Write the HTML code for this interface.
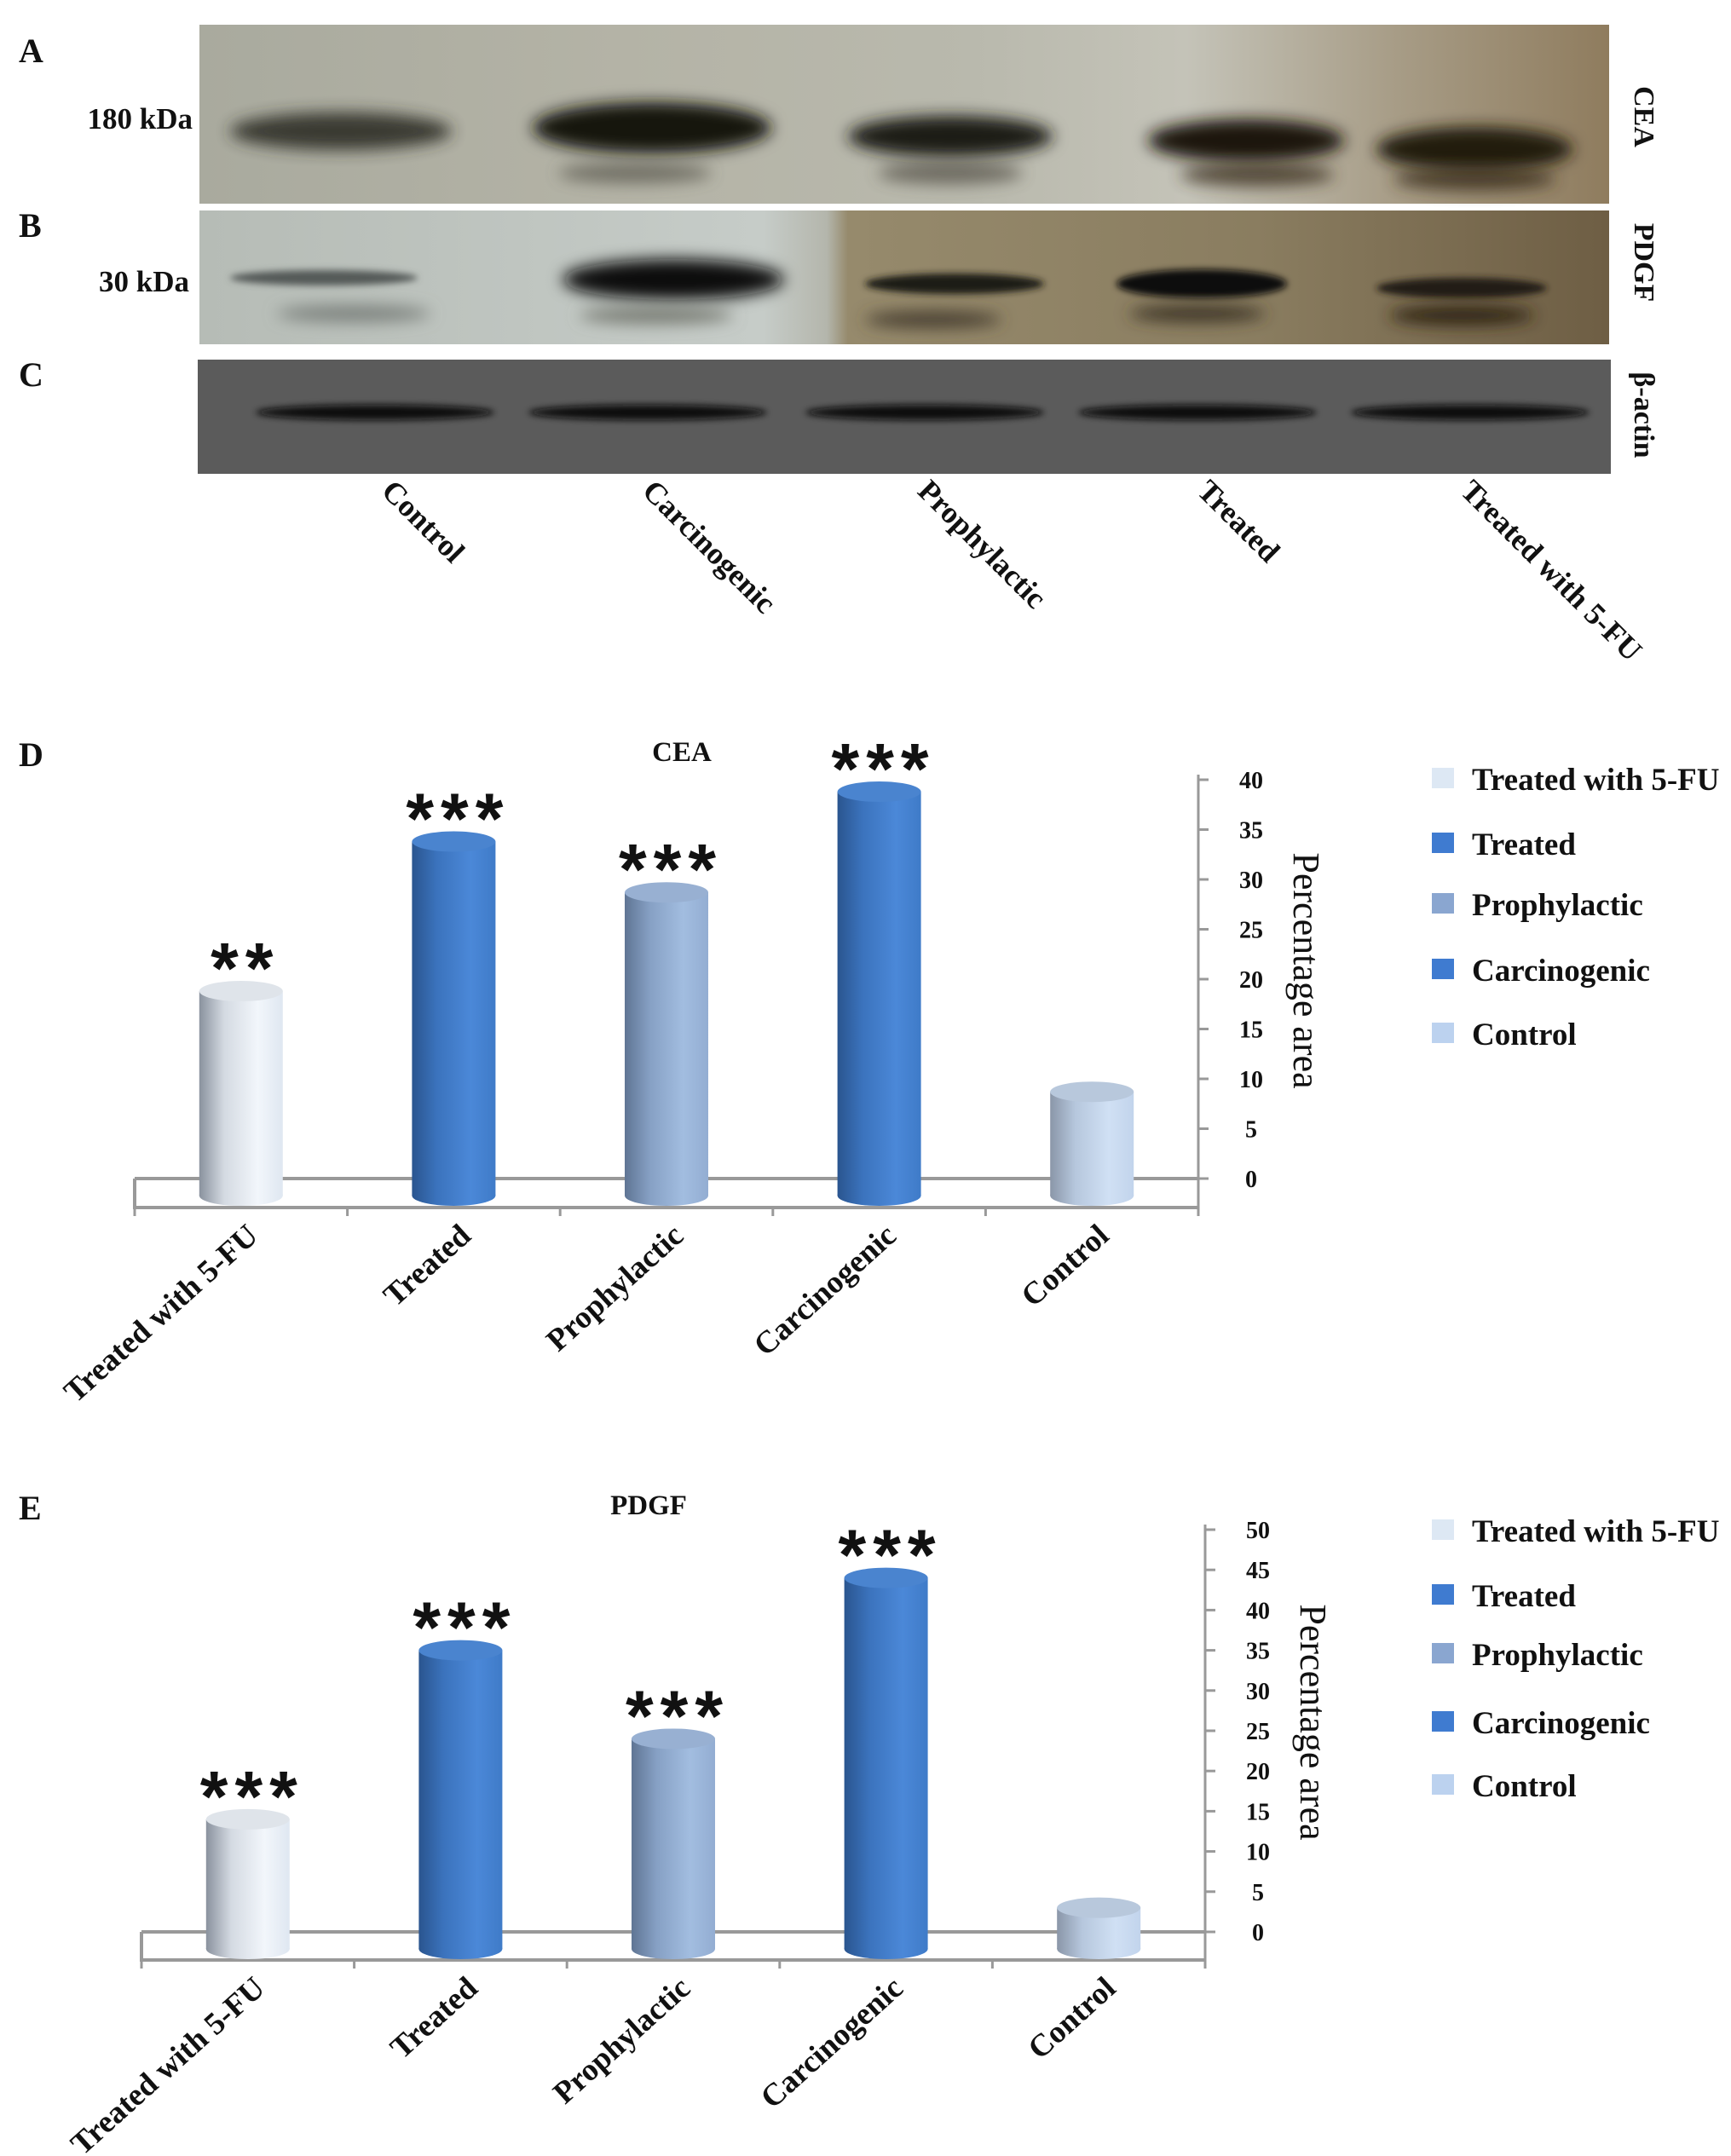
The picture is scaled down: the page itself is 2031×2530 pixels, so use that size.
<!DOCTYPE html>
<html><head><meta charset="utf-8"><style>
html,body{margin:0;padding:0;background:#fff}
svg{display:block}
text{font-family:"Liberation Serif",serif;font-weight:bold;fill:#111}
</style></head><body>
<svg id="fig" width="2031" height="2530" viewBox="0 0 2031 2530" xmlns="http://www.w3.org/2000/svg">
<defs>
<filter id="blur8" x="-30%" y="-100%" width="160%" height="300%"><feGaussianBlur stdDeviation="9"/></filter>
<filter id="blur4" x="-30%" y="-100%" width="160%" height="300%"><feGaussianBlur stdDeviation="4"/></filter>
<linearGradient id="bgA" x1="0" x2="1" y1="0" y2="0">
<stop offset="0" stop-color="#a9aa9e"/><stop offset="0.3" stop-color="#b4b3a6"/><stop offset="0.55" stop-color="#b9b9ad"/><stop offset="0.7" stop-color="#c4c3b8"/><stop offset="0.85" stop-color="#a79c86"/><stop offset="1" stop-color="#8f7c5e"/></linearGradient>
<linearGradient id="bgB" x1="0" x2="1" y1="0" y2="0">
<stop offset="0" stop-color="#b6bcb6"/><stop offset="0.4" stop-color="#c6ccc8"/><stop offset="0.445" stop-color="#b4b6ac"/><stop offset="0.46" stop-color="#968a6c"/><stop offset="0.75" stop-color="#8a7d60"/><stop offset="1" stop-color="#6e5e44"/></linearGradient>
<linearGradient id="g5fu" x1="0" x2="1"><stop offset="0" stop-color="#8a929e"/><stop offset="0.3" stop-color="#d4dae2"/><stop offset="0.7" stop-color="#f2f6fb"/><stop offset="1" stop-color="#dfe7f1"/></linearGradient>
<linearGradient id="gtr" x1="0" x2="1"><stop offset="0" stop-color="#2a558f"/><stop offset="0.3" stop-color="#3b73bd"/><stop offset="0.7" stop-color="#4b88d8"/><stop offset="1" stop-color="#3f7bc8"/></linearGradient>
<linearGradient id="gpr" x1="0" x2="1"><stop offset="0" stop-color="#5f7594"/><stop offset="0.3" stop-color="#86a0c4"/><stop offset="0.7" stop-color="#a2bde0"/><stop offset="1" stop-color="#93add2"/></linearGradient>
<linearGradient id="gct" x1="0" x2="1"><stop offset="0" stop-color="#8a96a8"/><stop offset="0.3" stop-color="#b6c7dd"/><stop offset="0.7" stop-color="#d0e0f4"/><stop offset="1" stop-color="#c2d4ec"/></linearGradient>
</defs>

<g>
<rect x="234" y="29" width="1654" height="210" fill="url(#bgA)"/>
<ellipse cx="400" cy="154" rx="130" ry="22" fill="#2e2e26" filter="url(#blur8)" opacity="0.9"/>
<ellipse cx="765" cy="150" rx="140" ry="30" fill="#151510" filter="url(#blur8)"/>
<ellipse cx="745" cy="203" rx="90" ry="12" fill="#55524a" filter="url(#blur8)" opacity="0.7"/>
<ellipse cx="1115" cy="160" rx="120" ry="24" fill="#1e1c16" filter="url(#blur8)"/>
<ellipse cx="1115" cy="203" rx="85" ry="13" fill="#4d4a40" filter="url(#blur8)" opacity="0.7"/>
<ellipse cx="1462" cy="165" rx="115" ry="25" fill="#1d1810" filter="url(#blur8)"/>
<ellipse cx="1475" cy="205" rx="90" ry="14" fill="#3c3020" filter="url(#blur8)" opacity="0.8"/>
<ellipse cx="1730" cy="175" rx="115" ry="26" fill="#201a10" filter="url(#blur8)"/>
<ellipse cx="1730" cy="210" rx="95" ry="14" fill="#3a2e1c" filter="url(#blur8)" opacity="0.8"/>
</g>
<g>
<rect x="234" y="247" width="1654" height="157" fill="url(#bgB)"/>
<ellipse cx="380" cy="326" rx="110" ry="9" fill="#555a58" filter="url(#blur4)"/>
<ellipse cx="415" cy="368" rx="90" ry="10" fill="#7d827e" filter="url(#blur8)"/>
<ellipse cx="790" cy="328" rx="130" ry="24" fill="#0c0e0c" filter="url(#blur8)"/>
<ellipse cx="770" cy="370" rx="90" ry="10" fill="#777a72" filter="url(#blur8)"/>
<ellipse cx="1120" cy="333" rx="105" ry="12" fill="#1e1a12" filter="url(#blur4)"/>
<ellipse cx="1095" cy="375" rx="80" ry="10" fill="#4a4030" filter="url(#blur8)"/>
<ellipse cx="1410" cy="333" rx="100" ry="17" fill="#0e0c08" filter="url(#blur4)"/>
<ellipse cx="1405" cy="368" rx="80" ry="10" fill="#3e3626" filter="url(#blur8)"/>
<ellipse cx="1715" cy="338" rx="100" ry="12" fill="#241e14" filter="url(#blur4)"/>
<ellipse cx="1715" cy="370" rx="85" ry="12" fill="#302818" filter="url(#blur8)"/>
</g>
<g>
<rect x="232" y="422" width="1658" height="134" fill="#5b5b5b"/>
<ellipse cx="440" cy="484" rx="140" ry="9" fill="#0a0a0a" filter="url(#blur4)"/>
<ellipse cx="760" cy="484" rx="140" ry="9" fill="#0a0a0a" filter="url(#blur4)"/>
<ellipse cx="1085" cy="484" rx="140" ry="9" fill="#0a0a0a" filter="url(#blur4)"/>
<ellipse cx="1405" cy="484" rx="140" ry="9" fill="#0a0a0a" filter="url(#blur4)"/>
<ellipse cx="1725" cy="484" rx="140" ry="9" fill="#0a0a0a" filter="url(#blur4)"/>
</g>
<text x="22" y="73" font-size="40">A</text>
<text x="22" y="278" font-size="40">B</text>
<text x="22" y="453" font-size="40">C</text>
<text x="226" y="151" font-size="35" text-anchor="end">180 kDa</text>
<text x="222" y="342" font-size="35" text-anchor="end">30 kDa</text>
<text transform="translate(1918,137) rotate(90)" font-size="34" text-anchor="middle">CEA</text>
<text transform="translate(1918,308) rotate(90)" font-size="34" text-anchor="middle">PDGF</text>
<text transform="translate(1918,487) rotate(90)" font-size="34" text-anchor="middle">β-actin</text>
<text transform="translate(446,578) rotate(45)" font-size="36">Control</text>
<text transform="translate(752,578) rotate(45)" font-size="36">Carcinogenic</text>
<text transform="translate(1075,578) rotate(45)" font-size="36">Prophylactic</text>
<text transform="translate(1403,578) rotate(45)" font-size="36">Treated</text>
<text transform="translate(1712,578) rotate(45)" font-size="36">Treated with 5-FU</text>

<g id="chartD"></g>
<g id="chartE"></g>
</svg>
<script>
const categories = ["Treated with 5-FU","Treated","Prophylactic","Carcinogenic","Control"];
const ceaValues = [18.8, 33.8, 28.7, 38.8, 8.7];
const ceaStars = ["**","***","***","***",""];
const ceaTicks = [0,5,10,15,20,25,30,35,40];
const pdgfValues = [14, 35, 24, 44, 3];
const pdgfStars = ["***","***","***","***",""];
const pdgfTicks = [0,5,10,15,20,25,30,35,40,45,50];
const legendLabels = ["Treated with 5-FU","Treated","Prophylactic","Carcinogenic","Control"];
const legendColors = ["#dde8f4","#3f7bd0","#8aa6d0","#3f7bd0","#bcd2ef"];
const barFills = ["url(#g5fu)","url(#gtr)","url(#gpr)","url(#gtr)","url(#gct)"];
const topFills = ["#dfe4ea","#4a84cf","#98b0d2","#4a84cf","#b8c8dc"];

const NS = "http://www.w3.org/2000/svg";
function mk(parent, tag, attrs, txt){
  const e = document.createElementNS(NS, tag);
  for (const k in attrs) e.setAttribute(k, attrs[k]);
  if (txt !== undefined) e.textContent = txt;
  parent.appendChild(e);
  return e;
}

function drawChart(gid, cfg){
  const g = document.getElementById(gid);
  const maxV = cfg.ticks[cfg.ticks.length-1];
  const y = v => cfg.y0 - (v / maxV) * (cfg.y0 - cfg.yTop);
  const step = (cfg.axisX - cfg.floorL) / cfg.cats.length;
  const x = i => cfg.floorL + step * (i + 0.5);

  const pl = mk(g, 'text', {x: 22, y: cfg.titleY + 6, 'font-size': 40});
  
  
  pl.textContent = cfg.panel;
  const t = mk(g, 'text', {x: cfg.titleX, y: cfg.titleY, 'font-size': 33, 'text-anchor': 'middle'}, cfg.title);
  
  

  const fl = mk(g, 'path', {d: `M${cfg.floorL},${cfg.y0} L${cfg.axisX},${cfg.y0} M${cfg.floorL},${cfg.y0} L${cfg.floorL},${cfg.floorB} L${cfg.axisX},${cfg.floorB}`, stroke: '#999', 'stroke-width': 4, fill: 'none'});
  
  
  for (let i = 0; i <= cfg.cats.length; i++){
    const tx = cfg.floorL + step * i;
    const tk = mk(g, 'line', {x1: tx, x2: tx, y1: cfg.floorB, y2: cfg.floorB + 10, stroke: '#999', 'stroke-width': 3});
    
    
  }
  const ax = mk(g, 'line', {x1: cfg.axisX, x2: cfg.axisX, y1: cfg.yTop - 6, y2: cfg.floorB + 10, stroke: '#999', 'stroke-width': 3});
  
  
  cfg.ticks.forEach(v => {
    const tl = mk(g, 'line', {x1: cfg.axisX, x2: cfg.axisX + 12, y1: y(v), y2: y(v), stroke: '#999', 'stroke-width': 3});
    
    
    const tt = mk(g, 'text', {x: cfg.axisX + 62, y: y(v) + 10, 'font-size': 28, 'text-anchor': 'middle'}, String(v));
    
    
  });
  const yt = mk(g, 'text', {transform: `translate(${cfg.axisX + 112},${(cfg.y0 + cfg.yTop)/2 - 10}) rotate(90)`, 'font-size': 44, 'text-anchor': 'middle', style: 'font-weight:normal'}, 'Percentage area');
  
  

  const bw = 98, ry = 12, bottom = cfg.y0 + 20;
  cfg.values.forEach((v, i) => {
    const cx = x(i), top = y(v);
    const bg = mk(g, 'g', {});
    
    
    mk(bg, 'ellipse', {cx: cx, cy: bottom, rx: bw/2, ry: ry, fill: barFills[i]});
    mk(bg, 'rect', {x: cx - bw/2, y: top, width: bw, height: bottom - top, fill: barFills[i]});
    mk(bg, 'ellipse', {cx: cx, cy: top, rx: bw/2, ry: ry, fill: topFills[i]});
    if (cfg.stars[i]){
      const st = mk(g, 'text', {x: cx + 5, y: top + 2, 'font-size': 84, 'letter-spacing': 8, 'text-anchor': 'middle', style: 'font-family:"Liberation Sans",sans-serif;font-weight:bold'}, cfg.stars[i]);
      
      
    }
    const xl = mk(g, 'text', {transform: `translate(${cx + 22},${cfg.floorB + 36}) rotate(-42)`, 'font-size': 37, 'text-anchor': 'end'}, cfg.cats[i]);
    
    
  });

  legendLabels.forEach((lab, i) => {
    const ly = cfg.legY[i];
    const sw = mk(g, 'rect', {x: 1680, y: ly - 14, width: 26, height: 24, fill: legendColors[i]});
    
    
    const lt = mk(g, 'text', {x: 1727, y: ly + 12, 'font-size': 37}, lab);
    
    
  });
}

drawChart('chartD', {panel: 'D', title: 'CEA', titleX: 800, titleY: 893, cats: categories, values: ceaValues, stars: ceaStars, ticks: ceaTicks,
  y0: 1383, yTop: 915, axisX: 1406, floorL: 158, floorB: 1417, legY: [915, 991, 1062, 1139, 1214]});
drawChart('chartE', {panel: 'E', title: 'PDGF', titleX: 761, titleY: 1777, cats: categories, values: pdgfValues, stars: pdgfStars, ticks: pdgfTicks,
  y0: 2267, yTop: 1795, axisX: 1414, floorL: 166, floorB: 2300, legY: [1797, 1873, 1942, 2022, 2096]});
</script>
</body></html>
